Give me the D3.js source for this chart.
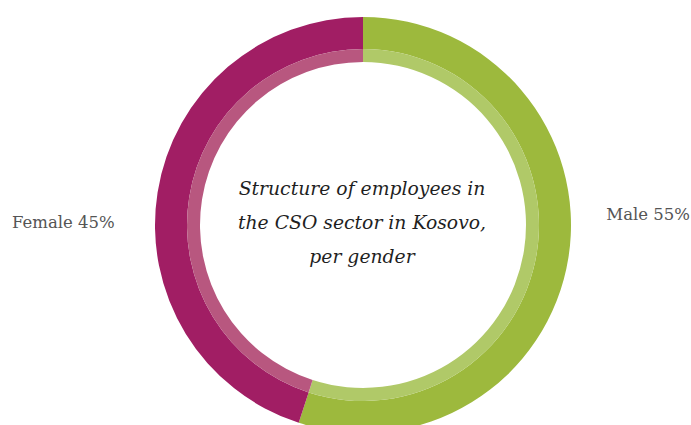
<!DOCTYPE html>
<html>
<head>
<meta charset="utf-8">
<script src="https://cdn.jsdelivr.net/npm/d3@7"></script>
<style>
  html, body { margin: 0; padding: 0; background: #fff; }
  svg { display: block; }
</style>
</head>
<body>
<svg id="chart" width="691" height="425"></svg>
<script>
// Employees in the CSO sector by gender (percent)
const categories = ["Male", "Female"];
const values = [55, 45];
const labels = ["Male 55%", "Female 45%"];
const titleLines = ["Structure of employees in", "the CSO sector in Kosovo,", "per gender"];

const colors = { Male: "#9db93d", Female: "#a11e64" };
const innerColors = { Male: "#b0c968", Female: "#b8577f" };

const svg = d3.select("#chart");
const cx = 363, cy = 225;
const rOuter = 208, rMid = 176, rInner = 163;

const pie = d3.pie().sort(null).value(d => d.value);
const arcs = pie(categories.map((c, i) => ({ name: c, value: values[i] })));

const g = svg.append("g").attr("transform", `translate(${cx},${cy})`);

const outerArc = d3.arc().innerRadius(rMid).outerRadius(rOuter);
const innerArc = d3.arc().innerRadius(rInner).outerRadius(rMid);

g.selectAll("path.outer").data(arcs).join("path")
  .attr("class", "outer")
  .attr("d", outerArc)
  .attr("fill", d => colors[d.data.name]);

g.selectAll("path.inner").data(arcs).join("path")
  .attr("class", "inner")
  .attr("d", innerArc)
  .attr("fill", d => innerColors[d.data.name]);

// Center title
const title = g.append("text")
  .attr("text-anchor", "middle")
  .attr("font-family", "'DejaVu Serif', serif")
  .attr("font-style", "italic")
  .attr("font-size", 18.8)
  .attr("fill", "#1f1f1f");
titleLines.forEach((t, i) => {
  title.append("tspan").attr("x", -1).attr("y", -30 + i * 34).text(t);
});

// Side labels
const labelFont = "'DejaVu Serif', serif";
svg.append("text")
  .attr("x", 12).attr("y", 228)
  .attr("font-family", labelFont).attr("font-size", 16.5)
  .attr("font-weight", 300)
  .attr("fill", "#555")
  .text(labels[1]);
svg.append("text")
  .attr("x", 690).attr("y", 220)
  .attr("text-anchor", "end")
  .attr("font-family", labelFont).attr("font-size", 16.5)
  .attr("font-weight", 300)
  .attr("fill", "#555")
  .text(labels[0]);
</script>
</body>
</html>
